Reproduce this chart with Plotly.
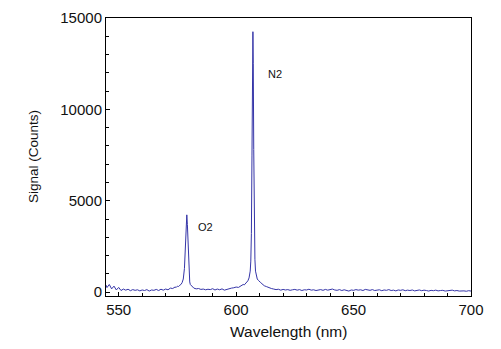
import plotly.graph_objects as go

wavelength = [
    544.7, 545, 546, 547, 548, 549, 550, 551, 552, 553, 554, 555, 556, 557, 558, 559,
    560, 561, 562, 563, 564, 565, 566, 567, 568, 569, 570, 571, 572, 573, 574,
    574.5, 575, 575.5, 576, 576.5, 577, 577.5, 578, 578.25, 578.5, 578.75, 579,
    579.25, 579.5, 579.75, 580, 580.25, 580.5, 581, 581.5, 582,
    583, 584, 585, 586, 587, 588, 589, 590, 591, 592, 593, 594, 595, 596, 597,
    598, 599, 600, 601, 602, 602.5, 603, 603.5, 604, 604.5, 605, 605.5, 606,
    606.25, 606.5, 606.75, 607, 607.15, 607.3, 607.5, 607.75, 608, 608.25, 608.5,
    609, 609.5, 610, 610.5, 611, 611.5, 612,
    613, 614, 615, 616, 617, 618, 619, 620, 621, 622, 623, 624, 625, 626, 627,
    628, 629, 630, 631, 632, 633, 634, 635, 636, 637, 638, 639, 640, 641, 642,
    643, 644, 645, 646, 647, 648, 649, 650, 651, 652, 653, 654, 655, 656, 657,
    658, 659, 660, 661, 662, 663, 664, 665, 666, 667, 668, 669, 670, 671, 672,
    673, 674, 675, 676, 677, 678, 679, 680, 681, 682, 683, 684, 685, 686, 687,
    688, 689, 690, 691, 692, 693, 694, 695, 696, 697, 698, 699, 700,
]

signal = [
    380, 250, 420, 180, 330, 120, 260, 90, 170, 110, 160, 80, 140, 100, 130, 70,
    120, 90, 140, 60, 120, 100, 150, 90, 160, 110, 170, 130, 220, 200, 280,
    260, 330, 310, 380, 420, 520, 720, 1300, 2100, 3200, 3900, 4230,
    3700, 2600, 1500, 850, 560, 420, 330, 250, 220,
    180, 200, 150, 170, 130, 160, 140, 190, 120, 170, 130, 180, 110, 160, 190,
    220, 240, 280, 260, 340, 360, 420, 400, 480, 540, 620, 780, 1150,
    1700, 3200, 7500, 12800, 14250, 12500, 7800, 3600, 1800, 1150, 900,
    720, 640, 600, 520, 460, 400, 350,
    300, 240, 200, 170, 140, 160, 110, 150, 120, 140, 100, 130, 150, 110, 140,
    90, 130, 120, 160, 110, 130, 90, 120, 140, 100, 150, 110, 130, 170, 120,
    100, 140, 90, 130, 110, 60, 120, 100, 140, 110, 130, 90, 150, 120, 100,
    140, 90, 110, 130, 80, 120, 100, 140, 90, 110, 70, 120, 100, 130, 80,
    110, 90, 120, 70, 100, 120, 80, 110, 90, 60, 100, 80, 110, 70, 90,
    100, 60, 90, 80, 110, 70, 90, 60, 80, 70, 50, 80, 60,
]

peak_labels = ["O2", "N2"]
peak_label_x = [586.9, 616.4]
peak_label_y = [3540, 11920]

x_ticks = [550, 600, 650, 700]
x_tick_text = ["550", "600", "650", "700"]
y_ticks = [0, 5000, 10000, 15000]
y_tick_text = ["0", "5000", "10000", "15000"]

FONT = "Liberation Sans, Arial, sans-serif"

fig = go.Figure()
fig.add_trace(go.Scatter(
    x=wavelength, y=signal, mode="lines",
    line=dict(color="#3535a8", width=1),
    hoverinfo="skip", showlegend=False,
))

for t, x, y in zip(peak_labels, peak_label_x, peak_label_y):
    fig.add_annotation(x=x, y=y, text=t, showarrow=False,
                       xanchor="center", yanchor="middle",
                       font=dict(family=FONT, size=11, color="#111111"))

fig.add_annotation(xref="paper", yref="paper", x=-0.2, y=0.5,
                   xanchor="center", yanchor="middle",
                   text="Signal (Counts)", textangle=-90, showarrow=False,
                   font=dict(family=FONT, size=13.5, color="#111111"))
fig.add_annotation(xref="paper", yref="paper", x=0.501, y=-0.129,
                   xanchor="center", yanchor="middle",
                   text="Wavelength (nm)", showarrow=False,
                   font=dict(family=FONT, size=15.5, color="#111111"))

axis_common = dict(
    showline=True, linecolor="black", linewidth=1, mirror=True,
    ticks="inside", ticklen=4, tickcolor="black", showgrid=False, zeroline=False,
    tickfont=dict(family=FONT, size=15, color="#111111"),
)

fig.update_xaxes(range=[544.6, 700], tickvals=x_ticks, ticktext=x_tick_text,
                 minor=dict(dtick=10, tick0=550, ticks="inside", ticklen=3, tickcolor="black"),
                 **axis_common)
fig.update_yaxes(range=[-210, 15000], tickvals=y_ticks, ticktext=y_tick_text,
                 minor=dict(dtick=1000, tick0=0, ticks="inside", ticklen=3, tickcolor="black"),
                 **axis_common)

fig.update_layout(
    width=501, height=349,
    margin=dict(l=106, r=30, t=9, b=53),
    paper_bgcolor="white", plot_bgcolor="white",
    showlegend=False,
)

fig.write_html("out.html")
